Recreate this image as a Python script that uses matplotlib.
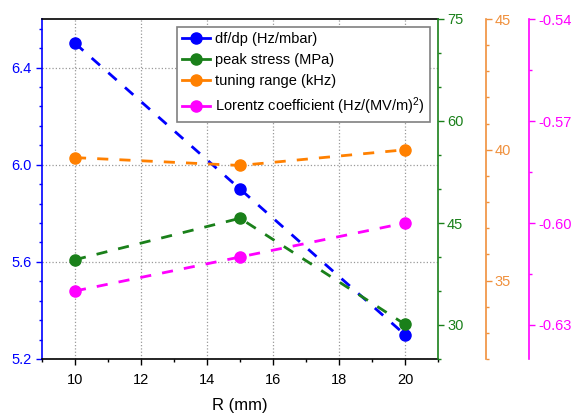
import numpy as np
import matplotlib
matplotlib.use('Agg')
import matplotlib.pyplot as plt
from matplotlib.ticker import MultipleLocator, FormatStrFormatter

plt.rcParams['font.family'] = ['Liberation Sans', 'DejaVu Sans']
plt.rcParams['mathtext.fontset'] = 'custom'
plt.rcParams['mathtext.rm'] = 'Liberation Sans'
plt.rcParams['mathtext.default'] = 'regular'
plt.rcParams['axes.unicode_minus'] = False

# data
R = [10, 15, 20]                      # mm
dfdp = [6.50, 5.90, 5.30]             # Hz/mbar
stress = [39.6, 45.7, 30.1]           # MPa
tuning = [39.7, 39.4, 40.0]           # kHz
lorentz = [-0.620, -0.610, -0.600]    # Hz/(MV/m)^2

blue = '#0000ff'
green = '#1a801a'
orange = '#ff8000'
orange_ax = '#f0903c'
magenta = '#ff00ff'

fig = plt.figure(figsize=(5.72, 4.18), dpi=100)
ax = fig.add_axes([42/572, 59/418, 396/572, 340/418])
ax2 = ax.twinx()
ax3 = ax.twinx()
ax4 = ax.twinx()

lw = 2
ms = 8
dsh = (4, 4)
l1, = ax.plot(R, dfdp, '--o', color=blue, lw=lw, ms=ms, dashes=dsh, label='df/dp (Hz/mbar)')
l2, = ax2.plot(R, stress, '--o', color=green, lw=lw, ms=ms, dashes=dsh, label='peak stress (MPa)')
l3, = ax3.plot(R, tuning, '--o', color=orange, lw=lw, ms=ms, dashes=dsh, label='tuning range (kHz)')
l4, = ax4.plot(R, lorentz, '--o', color=magenta, lw=lw, ms=ms, dashes=dsh,
               label='Lorentz coefficient (Hz/(MV/m)$^2$)')

# main axis
ax.set_xlim(9, 21)
ax.set_ylim(5.2, 6.6)
ax.xaxis.set_major_locator(MultipleLocator(2))
ax.xaxis.set_minor_locator(MultipleLocator(1))
ax.yaxis.set_major_locator(MultipleLocator(0.4))
ax.yaxis.set_minor_locator(MultipleLocator(0.08))
ax.grid(True, which='major', ls=':', color='#999999', lw=0.9)
ax.set_xlabel('R (mm)', fontsize=12, labelpad=8)
ax.spines['left'].set_color(blue)
ax.spines['left'].set_linewidth(1.2)
ax.spines['right'].set_visible(False)
ax.spines['bottom'].set_linewidth(1.2)
ax.spines['top'].set_linewidth(1.2)
ax.tick_params(axis='y', colors=blue, labelsize=10.5, direction='out', length=4, width=1)
ax.tick_params(axis='y', which='minor', colors=blue, length=2.5, width=1)
ax.tick_params(axis='x', labelsize=10.5, direction='out', length=4, width=1, pad=6)
ax.tick_params(axis='x', which='minor', direction='out', length=2.5, width=1)
ax.yaxis.set_major_formatter(FormatStrFormatter('%.1f'))

# extra axes
ax2.set_ylim(25, 75)
ax2.yaxis.set_major_locator(MultipleLocator(15))
ax2.yaxis.set_minor_locator(MultipleLocator(5))

ax3.set_ylim(32, 45)
ax3.yaxis.set_major_locator(MultipleLocator(5))
ax3.yaxis.set_minor_locator(MultipleLocator(1))
ax3.spines['right'].set_position(('axes', 1.120))

ax4.set_ylim(-0.64, -0.54)
ax4.yaxis.set_major_locator(MultipleLocator(0.03))
ax4.yaxis.set_minor_locator(MultipleLocator(0.015))
ax4.spines['right'].set_position(('axes', 1.231))
ax4.yaxis.set_major_formatter(FormatStrFormatter('%.2f'))

for a, c in [(ax2, green), (ax3, orange_ax), (ax4, magenta)]:
    for s in ['left', 'top', 'bottom']:
        a.spines[s].set_visible(False)
    a.spines['right'].set_color(c)
    a.spines['right'].set_linewidth(1.2)
    a.tick_params(axis='y', colors=c, labelsize=10.5, direction='out', length=4, width=1, pad=2.5)
    a.tick_params(axis='y', which='minor', colors=c, length=2.5, width=1)

leg = ax4.legend(handles=[l1, l2, l3, l4], loc='upper right', bbox_to_anchor=(0.997, 0.999),
                 fontsize=10.5, fancybox=False, edgecolor='#808080', framealpha=1,
                 handlelength=1.9, borderpad=0.35, labelspacing=0.5, handletextpad=0.35)
leg.get_frame().set_linewidth(1.2)
for h in leg.legend_handles:
    h.set_linestyle('-')

plt.savefig('out.png', dpi=100)
